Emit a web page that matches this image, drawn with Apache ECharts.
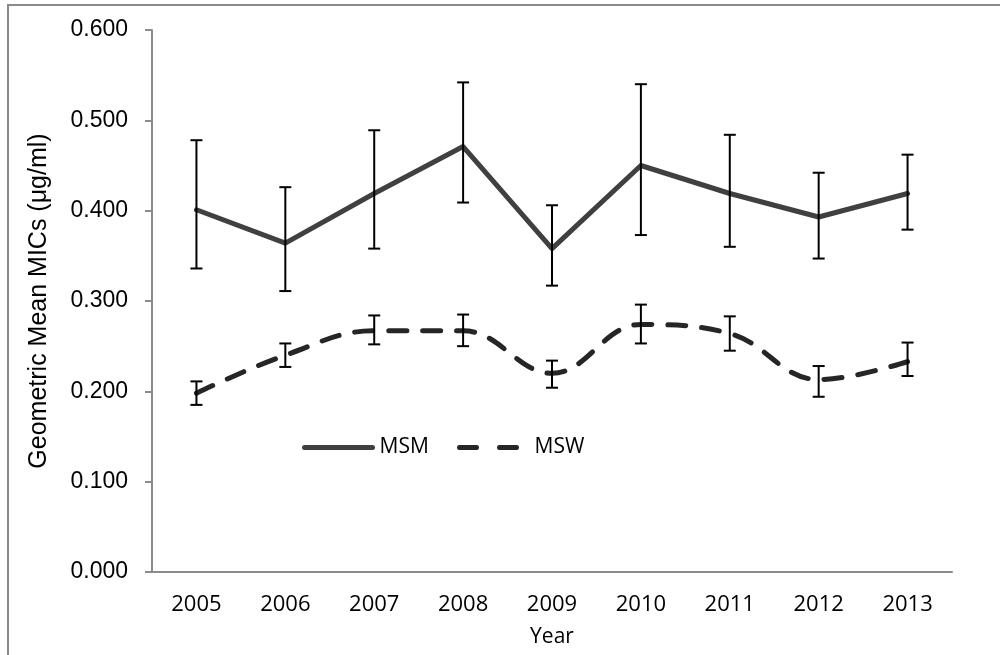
<!DOCTYPE html>
<html>
<head>
<meta charset="utf-8">
<script src="https://cdn.jsdelivr.net/npm/echarts@6/dist/echarts.min.js"></script>
<style>html,body{margin:0;padding:0;background:#fff;}#c{width:1000px;height:655px;}</style>
</head>
<body>
<div id="c"></div>
<script>
const years = ['2005','2006','2007','2008','2009','2010','2011','2012','2013'];
const msm = [0.401,0.364,0.419,0.471,0.358,0.450,0.419,0.393,0.419];
const msmLow = [0.336,0.311,0.358,0.409,0.317,0.373,0.360,0.347,0.379];
const msmHigh = [0.478,0.426,0.489,0.542,0.406,0.540,0.484,0.442,0.462];
const msw = [0.198,0.240,0.267,0.267,0.220,0.274,0.264,0.213,0.233];
const mswLow = [0.185,0.227,0.252,0.250,0.204,0.253,0.245,0.194,0.217];
const mswHigh = [0.211,0.253,0.284,0.285,0.234,0.296,0.283,0.228,0.254];

const chart = echarts.init(document.getElementById('c'), null, {renderer:'canvas'});

function errData(low, high){ return low.map((l,i)=>[i, l, high[i]]); }
function errRender(params, api){
  const x = api.value(0);
  const lo = api.coord([x, api.value(1)]);
  const hi = api.coord([x, api.value(2)]);
  const w = 6;
  const st = {stroke:'#000', lineWidth:2};
  return {type:'group', children:[
    {type:'line', shape:{x1:lo[0],y1:lo[1],x2:hi[0],y2:hi[1]}, style:st},
    {type:'line', shape:{x1:lo[0]-w,y1:lo[1],x2:lo[0]+w,y2:lo[1]}, style:st},
    {type:'line', shape:{x1:hi[0]-w,y1:hi[1],x2:hi[0]+w,y2:hi[1]}, style:st}
  ]};
}

const axisGray = '#8c8c8c';
chart.setOption({
  animation:false,
  graphic:[{type:'rect', shape:{x:8,y:5,width:1010,height:670}, style:{fill:'none', stroke:'#8a8a8a', lineWidth:2}, silent:true, z:-1}],
  grid:{left:152, right:48, top:30, bottom:83},
  legend:[
    {left:297, top:432, itemWidth:68, itemHeight:22, itemGap:0, data:['MSM'],
     itemStyle:{opacity:0},
     lineStyle:{color:'#404040', width:5, cap:'round', type:'solid'},
     textStyle:{fontFamily:'Open Sans', fontSize:21, color:'#000', padding:[0,0,0,2]}},
    {left:452, top:432, itemWidth:58, itemHeight:22, itemGap:0, data:['MSW'],
     itemStyle:{opacity:0},
     lineStyle:{color:'#262626', width:5, cap:'round', type:[17,23]},
     textStyle:{fontFamily:'Open Sans', fontSize:21, color:'#000', padding:[0,0,0,12]}}
  ],
  xAxis:{
    type:'category', data:years, boundaryGap:true,
    name:'Year', nameLocation:'middle', nameGap:55,
    nameTextStyle:{fontFamily:'Open Sans', fontSize:21, color:'#000'},
    axisLine:{lineStyle:{color:axisGray, width:2}},
    axisTick:{length:7, lineStyle:{color:axisGray, width:2}},
    axisLabel:{fontFamily:'Open Sans', fontSize:22, color:'#000', margin:22}
  },
  yAxis:{
    type:'value', min:0, max:0.6, interval:0.1,
    name:'Geometric Mean MICs (μg/ml)', nameLocation:'middle', nameGap:100,
    nameTextStyle:{fontFamily:'Liberation Sans', fontSize:25, color:'#000'},
    axisLine:{show:true, lineStyle:{color:axisGray, width:2}},
    axisTick:{show:true, length:7, lineStyle:{color:axisGray, width:2}},
    splitLine:{show:false},
    axisLabel:{fontFamily:'Liberation Sans', fontSize:23, color:'#000', margin:24,
      formatter:v=>v.toFixed(3)}
  },
  series:[
    {name:'MSM', type:'line', data:msm, symbol:'none', z:2,
     lineStyle:{color:'#404040', width:5, cap:'round', join:'round'},
     itemStyle:{color:'#404040'}},
    {name:'MSW', type:'line', data:msw, symbol:'none', smooth:0.4, z:2,
     lineStyle:{color:'#262626', width:5, type:[18,16], cap:'round'},
     itemStyle:{color:'#262626'}},
    {name:'msmErr', type:'custom', data:errData(msmLow, msmHigh), renderItem:errRender, z:5, silent:true},
    {name:'mswErr', type:'custom', data:errData(mswLow, mswHigh), renderItem:errRender, z:5, silent:true}
  ]
});
</script>
</body>
</html>
